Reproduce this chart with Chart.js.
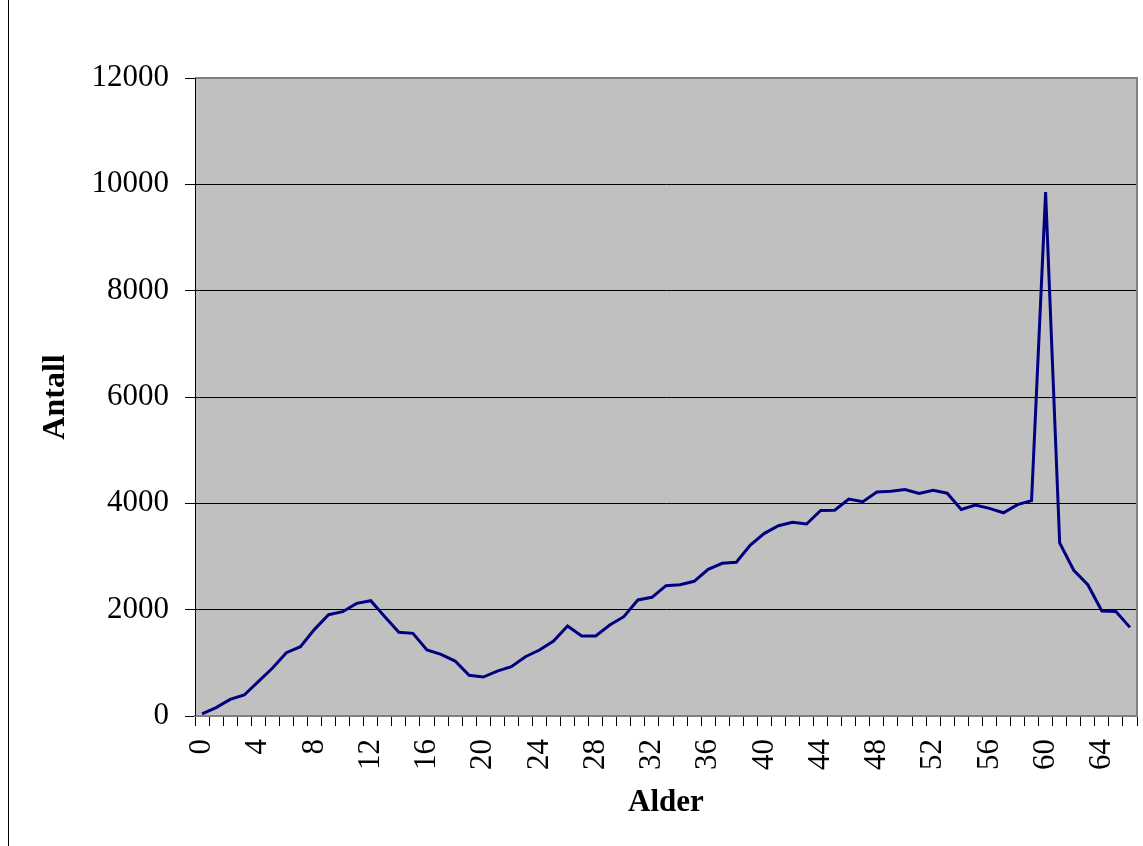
<!DOCTYPE html>
<html>
<head>
<meta charset="utf-8">
<script src="https://cdn.jsdelivr.net/npm/chart.js@4/dist/chart.umd.min.js"></script>
<style>
  html, body { margin: 0; padding: 0; background: #fff; }
  #wrap { position: relative; width: 1143px; height: 846px; }
  #edge { position: absolute; left: 8px; top: 0; width: 0; height: 846px; border-left: 1px solid #000; }
  canvas { position: absolute; left: 0; top: 0; }
</style>
</head>
<body>
<div id="wrap">
  <div id="edge"></div>
  <canvas id="ageChart" width="1143" height="846"></canvas>
</div>
<script>
  // alder 0..66
  const ages = [];
  for (let a = 0; a <= 66; a++) ages.push(String(a));

  const antall = [
    40, 157, 313, 395, 645, 897, 1191, 1304, 1630, 1906,
    1962, 2119, 2169, 1868, 1574, 1555, 1241, 1160, 1034, 765,
    733, 845, 927, 1115, 1241, 1410, 1693, 1505, 1505, 1711,
    1868, 2182, 2232, 2451, 2470, 2533, 2759, 2872, 2891, 3216,
    3436, 3579, 3643, 3611, 3865, 3870, 4080, 4031, 4212, 4226,
    4261, 4184, 4247, 4191, 3884, 3968, 3905, 3822, 3975, 4052,
    9854, 3257, 2741, 2469, 1974, 1967, 1667
  ];

  const yTicks = [0, 2000, 4000, 6000, 8000, 10000, 12000];

  const serif = "'Liberation Serif', 'Times New Roman', serif";

  // grå bakgrunn i plottområdet
  const plotArea = {
    id: 'plotArea',
    beforeDraw(chart) {
      const { ctx, chartArea: a } = chart;
      ctx.save();
      ctx.fillStyle = '#c0c0c0';
      ctx.fillRect(a.left, a.top, a.right - a.left, a.bottom - a.top);
      ctx.restore();
    },
    afterDatasetsDraw(chart) {
      const { ctx, chartArea: a } = chart;
      ctx.save();
      ctx.strokeStyle = '#808080';
      ctx.lineWidth = 2;
      ctx.beginPath();
      ctx.moveTo(a.left, a.top);
      ctx.lineTo(a.right, a.top);
      ctx.lineTo(a.right, a.bottom);
      ctx.lineTo(a.left, a.bottom);
      ctx.stroke();
      ctx.strokeStyle = '#000';
      ctx.lineWidth = 1;
      ctx.beginPath();
      ctx.moveTo(a.left + 0.5, a.top);
      ctx.lineTo(a.left + 0.5, a.bottom);
      ctx.stroke();
      ctx.restore();
    }
  };

  const ctx = document.getElementById('ageChart').getContext('2d');
  new Chart(ctx, {
    type: 'line',
    data: {
      labels: ages,
      datasets: [{
        label: 'Antall',
        data: antall,
        borderColor: '#000080',
        borderWidth: 3,
        pointRadius: 0,
        fill: false,
        tension: 0
      }]
    },
    plugins: [plotArea],
    options: {
      responsive: false,
      animation: false,
      layout: { padding: { left: 0, top: 78, right: 6, bottom: 0 } },
      plugins: {
        legend: { display: false },
        tooltip: { enabled: false }
      },
      scales: {
        x: {
          offset: true,
          afterFit: s => {
            s.height = 846 - 716;
            s.paddingLeft = 0;
            s.paddingRight = 0;
          },
          grid: { drawOnChartArea: false, drawTicks: true, tickLength: 10, offset: true, color: '#000' },
          border: { display: true, color: '#808080', width: 2 },
          ticks: {
            autoSkip: false,
            maxRotation: 90,
            minRotation: 90,
            padding: 13,
            color: '#000',
            font: { family: serif, size: 31 },
            callback: (v, i) => (i % 4 === 0 ? ages[i] : '')
          },
          title: {
            display: true,
            text: 'Alder',
            color: '#000',
            font: { family: serif, size: 31, weight: 'bold' },
            padding: { top: 0, bottom: 24 }
          }
        },
        y: {
          min: 0,
          max: 12000,
          afterFit: s => {
            s.width = 195;
            s.paddingTop = 0;
            s.paddingBottom = 0;
          },
          afterBuildTicks: s => { s.ticks = yTicks.map(v => ({ value: v })); },
          grid: { color: '#000', lineWidth: 1, tickLength: 10 },
          border: { display: true, color: '#000', width: 1 },
          ticks: {
            padding: 16,
            color: '#000',
            font: { family: serif, size: 31 },
            callback: v => String(v)
          },
          title: {
            display: true,
            text: 'Antall',
            color: '#000',
            font: { family: serif, size: 32, weight: 'bold' },
            padding: { top: 37, bottom: 0 }
          }
        }
      }
    }
  });
</script>
</body>
</html>
